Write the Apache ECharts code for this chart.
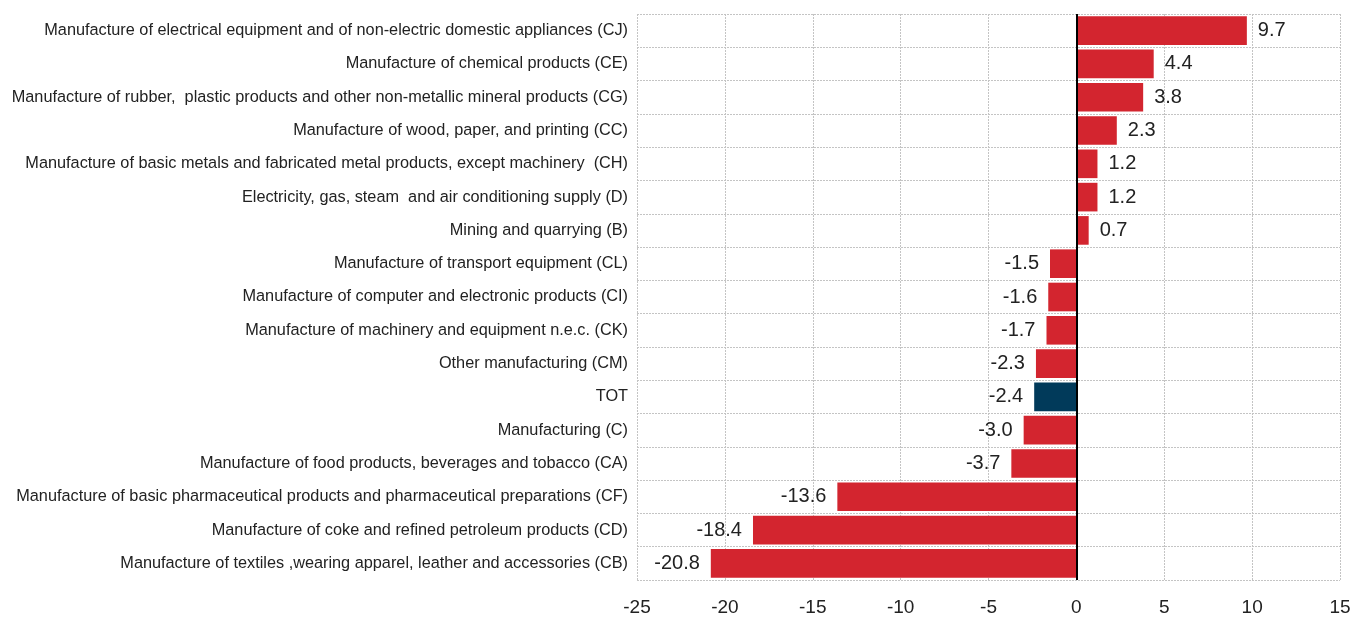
<!DOCTYPE html>
<html>
<head>
<meta charset="utf-8">
<script src="https://cdn.jsdelivr.net/npm/echarts@6/dist/echarts.min.js"></script>
<style>html,body{margin:0;padding:0;background:#fff}#c{width:1355px;height:617px}</style>
</head>
<body>
<div id="c"></div>
<script>
const categories = [
  "Manufacture of electrical equipment and of non-electric domestic appliances (CJ)",
  "Manufacture of chemical products (CE)",
  "Manufacture of rubber,  plastic products and other non-metallic mineral products (CG)",
  "Manufacture of wood, paper, and printing (CC)",
  "Manufacture of basic metals and fabricated metal products, except machinery  (CH)",
  "Electricity, gas, steam  and air conditioning supply (D)",
  "Mining and quarrying (B)",
  "Manufacture of transport equipment (CL)",
  "Manufacture of computer and electronic products (CI)",
  "Manufacture of machinery and equipment n.e.c. (CK)",
  "Other manufacturing (CM)",
  "TOT",
  "Manufacturing (C)",
  "Manufacture of food products, beverages and tobacco (CA)",
  "Manufacture of basic pharmaceutical products and pharmaceutical preparations (CF)",
  "Manufacture of coke and refined petroleum products (CD)",
  "Manufacture of textiles ,wearing apparel, leather and accessories (CB)"
];
const values = [9.7, 4.4, 3.8, 2.3, 1.2, 1.2, 0.7, -1.5, -1.6, -1.7, -2.3, -2.4, -3.0, -3.7, -13.6, -18.4, -20.8];
const highlight = ["TOT"];
const xTicks = { min: -25, max: 15, interval: 5 };

const FONT = '"Liberation Sans Narrow", "Arial Narrow", "Liberation Sans", sans-serif';
const RED = '#d3252f', BLUE = '#013a5a';

const data = values.map((v, i) => ({
  value: v,
  itemStyle: { color: highlight.includes(categories[i]) ? BLUE : RED },
  label: { position: v >= 0 ? 'right' : 'left' }
}));

const chart = echarts.init(document.getElementById('c'), null, { renderer: 'canvas' });
chart.setOption({
  animation: false,
  grid: { left: 637, right: 15, top: 14, bottom: 37, containLabel: false },
  xAxis: {
    type: 'value', min: xTicks.min, max: xTicks.max, interval: xTicks.interval,
    axisLine: { show: false }, axisTick: { show: false },
    axisLabel: { fontFamily: FONT, fontSize: 19, color: '#222', margin: 18 },
    splitLine: { show: true, lineStyle: { color: '#c4c4c4', type: [2, 1], width: 1 } }
  },
  yAxis: {
    type: 'category', data: categories, inverse: true,
    axisLine: { show: false }, axisTick: { show: false },
    axisLabel: { fontFamily: FONT, fontSize: 16.3, color: '#222', margin: 9 },
    splitLine: { show: true, lineStyle: { color: '#c4c4c4', type: [2, 1], width: 1 } }
  },
  series: [{
    type: 'bar', data: data, barCategoryGap: '14%',
    label: {
      show: true, fontFamily: FONT, fontSize: 20, color: '#222', distance: 11,
      formatter: p => p.value.toFixed(1)
    },
    markLine: {
      silent: true, symbol: 'none', label: { show: false },
      lineStyle: { color: '#000', type: 'solid', width: 2 },
      data: [{ xAxis: 0 }]
    }
  }]
});
</script>
</body>
</html>
